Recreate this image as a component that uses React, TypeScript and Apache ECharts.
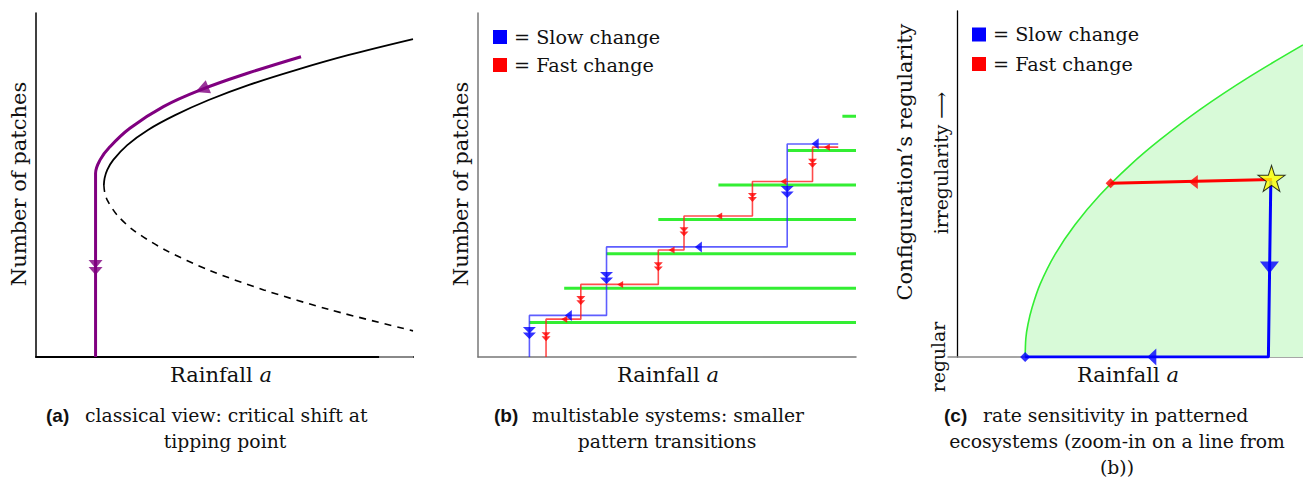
import React, { useEffect, useRef } from 'react';
import * as echarts from 'echarts';

const W = 1303;
const H = 477;
const SERIF = 'DejaVu Serif, Liberation Serif, serif';
const SANS = 'Liberation Sans, Arial, sans-serif';

// ---------- Panel (a): classical fold ----------
const aUpperX = [100, 83.0, 68.9, 56.5, 45.8, 36.9, 29.7, 24.2, 20.5, 18.9, 18.2, 18.0];
const aUpperY = [92.4, 87.8, 83.4, 79.1, 74.7, 70.3, 66.0, 61.6, 57.3, 54.4, 52.0, 50.0];
const aLowerX = [18.0, 18.2, 18.9, 21.5, 25.8, 34.3, 45.8, 60.4, 78.1, 100];
const aLowerY = [50.0, 48.0, 45.6, 41.3, 36.9, 31.1, 25.3, 19.5, 13.7, 7.6];
const aPathX = [70.3, 55.9, 44.0, 33.8, 24.9, 19.6, 17.0, 15.8, 15.8, 15.8];
const aPathY = [87.3, 82.4, 77.8, 72.8, 66.5, 61.1, 57.3, 53.4, 50.0, 0];
const aArrow = [44.0, 77.8];
const aDoubleArrow = [15.8, 26.0];
const aAxisGrayX = [91, 100];

// ---------- Panel (b): multistable staircase ----------
const bLevels = [10, 20, 30, 40, 50, 60, 70];
const bStarts = [13.6, 22.8, 34.0, 47.7, 63.6, 81.9, 96.4];
const bSlowX = [95.3, 81.8, 81.8, 34.0, 34.0, 13.6, 13.6];
const bSlowY = [61.9, 61.9, 32.0, 32.0, 12.1, 12.1, 0];
const bFastX = [95.3, 88.5, 88.5, 72.6, 72.6, 54.5, 54.5, 47.7, 47.7, 27.2, 27.2, 18.0, 18.0];
const bFastY = [61.0, 61.0, 51.0, 51.0, 41.0, 41.0, 31.1, 31.1, 21.1, 21.1, 11.0, 11.0, 0];
const bSlowLeftX = [89.2, 58.3, 23.9];
const bSlowLeftY = [62.0, 32.0, 12.1];
const bSlowDownX = [81.8, 34.0, 13.6];
const bSlowDownY = [48.0, 23.0, 7.0];
const bFastLeftX = [92.3, 80.8, 63.8, 51.2, 37.6, 22.8];
const bFastLeftY = [61.0, 51.0, 41.0, 31.1, 21.1, 11.0];
const bFastDownX = [88.5, 72.6, 54.5, 47.7, 27.2, 18.0];
const bFastDownY = [56.3, 46.4, 36.4, 26.2, 16.4, 5.9];

// ---------- Panel (c): rate sensitivity ----------
const cEdgeX = [19.7, 19.9, 20.5, 21.7, 24.0, 28.3, 34.1, 41.3, 50.0, 58.7, 70.2, 84.7, 100];
const cEdgeY = [0, 5.4, 9.4, 14.3, 21.0, 29.6, 38.2, 46.8, 55.4, 62.8, 71.5, 81.1, 90.2];
const cFastX = [91.0, 44.4];
const cFastY = [51.3, 50.2];
const cSlowX = [90.7, 90.0, 19.7];
const cSlowY = [50.9, 0, 0];
const cStar = [90.9, 51.6];
const cFastEnd = [44.4, 50.2];
const cSlowEnd = [19.7, 0];
const cFastArrow = [68.3, 50.6];
const cSlowDownArrow = [90.3, 25.9];
const cSlowLeftArrow = [56.3, 0];

const zip = (xs: number[], ys: number[]) => xs.map((x, i) => [x, ys[i]]);

const DOUBLE_DOWN = 'path://M0,0L12,0L6,7ZM0,6L12,6L6,13Z';
const STAR = 'path://M50,2L61,36L97,36L68,57L79,92L50,71L21,92L32,57L3,36L39,36Z';

function hiddenAxis(gi: number, min: number, max: number, color: string, width: number, onZero = false) {
  return {
    gridIndex: gi,
    type: 'value',
    min,
    max,
    axisLine: { show: true, onZero, lineStyle: { color, width } },
    axisTick: { show: false },
    axisLabel: { show: false },
    splitLine: { show: false },
  };
}

function line(gi: number, data: number[][], color: string, width: number, extra: any = {}, dash?: number[]) {
  const ls: any = { color, width };
  if (dash) ls.type = dash;
  return {
    type: 'line',
    xAxisIndex: gi,
    yAxisIndex: gi,
    data,
    symbol: 'none',
    silent: true,
    ...extra,
    lineStyle: ls,
  };
}

function marks(gi: number, data: number[][], color: string, symbol: string, size: number[] | number, rotate: number, extra: any = {}) {
  return {
    type: 'scatter',
    xAxisIndex: gi,
    yAxisIndex: gi,
    data,
    symbol,
    symbolSize: size,
    symbolRotate: rotate,
    silent: true,
    z: 6,
    itemStyle: { color },
    ...extra,
  };
}

function text(x: number, y: number, t: string, size: number, opts: any = {}) {
  const style: any = {
    text: t,
    fontFamily: opts.family || SERIF,
    fontSize: size,
    fontWeight: opts.weight || 'normal',
    fill: '#111',
    align: opts.align || 'left',
    verticalAlign: 'middle',
  };
  if (opts.rich) style.rich = opts.rich;
  return {
    type: 'text',
    x,
    y,
    rotation: opts.rotation || 0,
    style,
  };
}

function rainfall(x: number) {
  return text(x, 375, '{r|Rainfall }{i|a}', 21, {
    align: 'center',
    rich: {
      r: { fontFamily: SERIF, fontSize: 21, fill: '#111' },
      i: { fontFamily: SERIF, fontSize: 21, fontStyle: 'italic', fill: '#111' },
    },
  });
}

function legend(x: number, y1: number, y2: number) {
  return [
    { type: 'rect', shape: { x, y: y1 - 7, width: 14, height: 14 }, style: { fill: '#0000ff' } },
    { type: 'rect', shape: { x, y: y2 - 7, width: 14, height: 14 }, style: { fill: '#ff0000' } },
    text(x + 21, y1, '= Slow change', 19.2),
    text(x + 21, y2, '= Fast change', 19.2),
  ];
}

const CAP = 18.8;

const series: any[] = [
  // panel a
  line(0, aAxisGrayX.map((x) => [x, 0]), '#888', 2, { z: 3 }),
  line(0, zip(aUpperX, aUpperY), '#000', 1.8, { smooth: 0.3 }),
  line(0, zip(aLowerX, aLowerY), '#000', 1.6, { smooth: 0.3 }, [7, 6]),
  line(0, zip(aPathX, aPathY), '#800080', 3, { smooth: 0.4 }),
  marks(0, [aArrow], '#800080', 'triangle', [14, 14], 112),
  marks(0, [aDoubleArrow], '#800080', DOUBLE_DOWN, [14, 15], 0),
  // panel b
  ...bLevels.map((lv, i) => line(1, [[bStarts[i], lv], [100, lv]], '#33ee33', 3)),
  line(1, zip(bSlowX, bSlowY), 'rgba(40,40,255,0.75)', 1.6),
  line(1, zip(bFastX, bFastY), 'rgba(255,30,30,0.8)', 1.6),
  marks(1, zip(bSlowLeftX, bSlowLeftY), '#0000ff', 'triangle', [11, 7], 90),
  marks(1, zip(bSlowDownX, bSlowDownY), '#0000ff', DOUBLE_DOWN, [13, 12], 0),
  marks(1, zip(bFastLeftX, bFastLeftY), '#ff0000', 'triangle', [7, 6], 90),
  marks(1, zip(bFastDownX, bFastDownY), '#ff0000', DOUBLE_DOWN, [9, 9], 0),
  // panel c
  line(2, zip(cEdgeX, cEdgeY), '#33ee33', 1.6, { smooth: 0.3, areaStyle: { color: '#d8fad8', opacity: 1 }, z: 1 }),
  line(2, zip(cSlowX, cSlowY), '#0000ff', 3),
  line(2, zip(cFastX, cFastY), '#ff0000', 3),
  marks(2, [cFastEnd], '#ff0000', 'diamond', [10, 10], 0),
  marks(2, [cSlowEnd], '#0000ff', 'diamond', [10, 10], 0),
  marks(2, [cFastArrow], '#ff0000', 'triangle', [14, 9], 90),
  marks(2, [cSlowLeftArrow], '#0000ff', 'triangle', [17, 9], 90),
  marks(2, [cSlowDownArrow], '#0000ff', 'triangle', [19, 12], 180),
  marks(2, [cStar], '#ffff00', STAR, [27, 26], 0, { itemStyle: { color: '#ffff00', borderColor: '#000', borderWidth: 1 }, z: 8 }),
];

const graphics: any[] = [
  // axis titles
  text(19, 184, 'Number of patches', 21, { align: 'center', rotation: Math.PI / 2 }),
  text(461, 184, 'Number of patches', 21, { align: 'center', rotation: Math.PI / 2 }),
  text(905, 162, 'Configuration’s regularity', 21, { align: 'center', rotation: Math.PI / 2 }),
  text(941, 163, 'irregularity ⟶', 18.8, { align: 'center', rotation: Math.PI / 2 }),
  text(938, 357, 'regular', 18.8, { align: 'center', rotation: Math.PI / 2 }),
  rainfall(221),
  rainfall(668),
  rainfall(1128),
  // legends
  ...legend(493, 37, 65),
  ...legend(972, 34.5, 64),
  // captions
  text(46, 415, '(a)', 19, { family: SANS, weight: 'bold' }),
  text(85, 415, 'classical view: critical shift at', CAP),
  text(225, 441, 'tipping point', CAP, { align: 'center' }),
  text(494, 415, '(b)', 19, { family: SANS, weight: 'bold' }),
  text(532, 415, 'multistable systems: smaller', CAP),
  text(667, 441, 'pattern transitions', CAP, { align: 'center' }),
  text(944, 415, '(c)', 19, { family: SANS, weight: 'bold' }),
  text(983, 415, 'rate sensitivity in patterned', CAP),
  text(1117, 441, 'ecosystems (zoom-in on a line from', CAP, { align: 'center' }),
  text(1117, 467, '(b))', CAP, { align: 'center' }),
];

const option: any = {
  animation: false,
  backgroundColor: '#fff',
  grid: [
    { left: 36, top: 13, width: 377, height: 344 },
    { left: 478, top: 13, width: 378, height: 344 },
    { left: 948, top: 11, width: 355, height: 346 },
  ],
  xAxis: [
    hiddenAxis(0, 0, 100, '#000', 2),
    hiddenAxis(1, 0, 100, '#777', 1.5),
    hiddenAxis(2, -2.6, 100, '#888', 1.5),
  ],
  yAxis: [
    hiddenAxis(0, 0, 100, '#000', 1.5),
    hiddenAxis(1, 0, 100, '#777', 1.5),
    hiddenAxis(2, 0, 100, '#000', 1.3, true),
  ],
  series,
  graphic: graphics,
};

export default function App() {
  const ref = useRef<HTMLDivElement>(null);
  useEffect(() => {
    const chart = echarts.init(ref.current!, null, { renderer: 'svg' });
    chart.setOption(option);
    return () => chart.dispose();
  }, []);
  return (
    <div
      ref={ref}
      style={{ position: 'fixed', left: 0, top: 0, width: W, height: H, background: '#fff' }}
    />
  );
}
